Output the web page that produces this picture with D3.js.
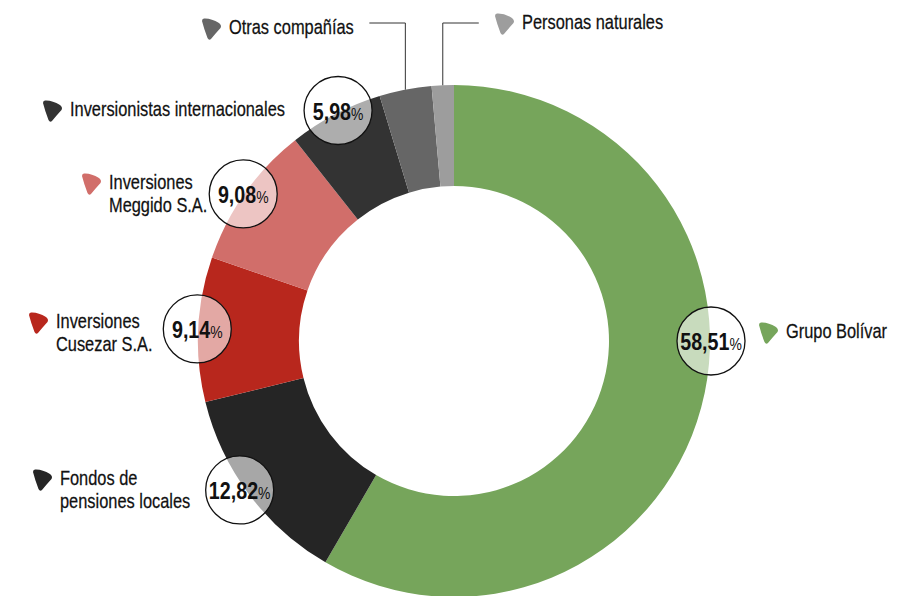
<!DOCTYPE html>
<html lang="es">
<head>
<meta charset="UTF-8">
<title>Composición accionaria</title>
<script src="https://cdnjs.cloudflare.com/ajax/libs/d3/7.8.5/d3.min.js"></script>
<style>
    body { margin: 0; padding: 0; background: #fff; }
    #chart { width: 903px; height: 596px; overflow: hidden; }
    text { font-family: "Liberation Sans", Arial, sans-serif; }
    .legend-text { font-size: 20.5px; fill: #111; stroke: #111; stroke-width: 0.25px; }
    .value-num { font-size: 24px; font-weight: bold; fill: #111; }
    .value-pct { font-size: 17px; fill: #111; }
</style>
</head>
<body>
<div id="chart"></div>
<script>
    // Data (clockwise from 12 o'clock)
    const categories = ["Grupo Bolívar", "Fondos de pensiones locales", "Inversiones Cusezar S.A.",
        "Inversiones Meggido S.A.", "Inversionistas internacionales", "Otras compañías", "Personas naturales"];
    const legendLines = [["Grupo Bolívar"], ["Fondos de", "pensiones locales"], ["Inversiones", "Cusezar S.A."],
        ["Inversiones", "Meggido S.A."], ["Inversionistas internacionales"], ["Otras compañías"], ["Personas naturales"]];
    const shares = [58.51, 12.82, 9.14, 9.08, 5.98, 3.3, 1.4];
    const valueLabels = ["58,51", "12,82", "9,14", "9,08", "5,98", null, null];
    const colors = ["#76a55b", "#252525", "#b8271d", "#d16e6a", "#333333", "#666666", "#9d9d9d"];

    // Layout
    const width = 903, height = 596;
    const cx = 454, cy = 341, rOuter = 256, rInner = 155;
    const bubbleAngle = [90, 235.2, 272.7, 304.9, 333.3, null, null]; // degrees clockwise from top
    const bubbleDist = [257, 261, 257, 257, 258, null, null];
    const bubbleR = 34;
    const legendPos = [[759, 322], [33, 469], [29, 312], [82, 173], [43, 100], [202, 18], [495, 13]];
    const leaderY = 23;
    const squeeze = 0.8; // condensed look, no narrow font installed

    const svg = d3.select("#chart").append("svg")
        .attr("width", width)
        .attr("height", height);

    const items = categories.map((c, i) => ({ name: c, value: shares[i], i: i }));

    const pie = d3.pie().value(d => d.value).sort(null);
    const arcs = pie(items);
    const arc = d3.arc().innerRadius(rInner).outerRadius(rOuter);

    const g = svg.append("g").attr("transform", `translate(${cx},${cy})`);

    g.selectAll("path.slice")
        .data(arcs)
        .enter().append("path")
        .attr("class", "slice")
        .attr("d", arc)
        .attr("fill", d => colors[d.data.i]);

    // Leader lines for the small slices
    arcs.filter(d => !valueLabels[d.data.i]).forEach(d => {
        const a = (d.startAngle + d.endAngle) / 2;
        const x = cx + rOuter * Math.sin(a);
        const y = cy - rOuter * Math.cos(a);
        const lx = legendPos[d.data.i][0];
        const dir = lx < x ? -1 : 1;
        svg.append("path")
            .attr("d", `M${x + dir * 36},${leaderY}H${x}V${y}`)
            .attr("fill", "none")
            .attr("stroke", "#333")
            .attr("stroke-width", 1);
    });

    // Value bubbles
    const bubbles = svg.append("g").selectAll("g")
        .data(items.filter(d => valueLabels[d.i]))
        .enter().append("g")
        .attr("transform", d => {
            const a = bubbleAngle[d.i] * Math.PI / 180;
            return `translate(${cx + bubbleDist[d.i] * Math.sin(a)},${cy - bubbleDist[d.i] * Math.cos(a)})`;
        });

    bubbles.append("circle")
        .attr("r", bubbleR)
        .attr("fill", "#fff")
        .attr("fill-opacity", 0.6)
        .attr("stroke", "#111")
        .attr("stroke-width", 1.3);

    const vt = bubbles.append("text")
        .attr("text-anchor", "middle")
        .attr("transform", `scale(0.82,1)`)
        .attr("y", 9);
    vt.append("tspan").attr("class", "value-num").text(d => valueLabels[d.i]);
    vt.append("tspan").attr("class", "value-pct").text("%");

    // Legend
    const markerPath = "M2,0.5 Q9,0 17,5 Q20,7.5 18.5,10 Q13,16 9,21 Q7,23 5.5,20 Q2,11 0,3 Q0,0.5 2,0.5Z";

    const legend = svg.append("g").selectAll("g")
        .data(items)
        .enter().append("g")
        .attr("transform", d => `translate(${legendPos[d.i][0]},${legendPos[d.i][1]})`);

    legend.append("path")
        .attr("d", markerPath)
        .attr("fill", d => colors[d.i]);

    legend.append("text")
        .attr("class", "legend-text")
        .attr("transform", `scale(${squeeze},1)`)
        .selectAll("tspan")
        .data(d => legendLines[d.i])
        .enter().append("tspan")
        .attr("x", 27 / squeeze)
        .attr("y", (l, j) => 16 + j * 23)
        .text(l => l);
</script>
</body>
</html>
